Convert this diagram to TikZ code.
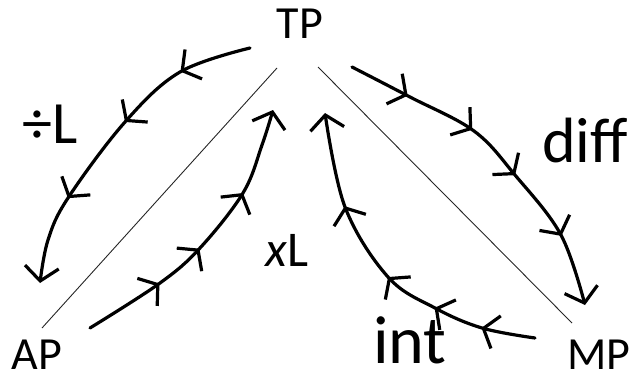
\documentclass[tikz,border=0pt]{standalone}
\usepackage{fontspec}
\setmainfont{Carlito}
\usetikzlibrary{arrows.meta, decorations.markings}
\tikzstyle{corner} = [inner sep=0pt, font=\fontsize{46}{46}\selectfont]
\tikzstyle{scrawl} = [inner sep=0pt, font=\fontsize{60}{60}\selectfont]
\tikzstyle{divider} = [line width=0.9pt, black!85]
\tikzstyle{route} = [line width=3.2pt, line cap=round, line join=round,
-{Straight Barb[length=14pt,width=34pt]},
postaction={decorate}]
\tikzset{hand/.tip={Straight Barb[length=13pt,width=34pt]}}

\begin{document}
\begin{tikzpicture}[x=1pt,y=-1pt]
\useasboundingbox (0,0) rectangle (635,383);

\node (tp) [corner] at (300,24) {TP};
\node (ap) [corner] at (37,355) {AP};
\node (mp) [corner] at (599,355) {MP};
\node (divlbl) [scrawl] at (50,124) {÷L};
\node (mullbl) [scrawl, font=\fontsize{50}{50}\selectfont] at (287,250) {{\itshape x}L};
\node (difflbl) [scrawl, font=\fontsize{64}{64}\selectfont] at (585,140) {diff};
\node (intlbl) [scrawl, font=\fontsize{68}{68}\selectfont] at (410,340) {int};

\coordinate (tpl) at (277,68);
\coordinate (apl) at (42,328);
\coordinate (tpr) at (318,67);
\coordinate (mpr) at (572,323);
\draw [divider] (tpl) -- (apl);
\draw [divider] (tpr) -- (mpr);

% TP -> AP
\draw [route, decoration={markings,
mark=at position 0.22 with {\arrow{hand}},
mark=at position 0.445 with {\arrow{hand}},
mark=at position 0.73 with {\arrow{hand}}}]
plot [smooth, tension=0.6] coordinates {(250,48) (180,72) (125,122) (68,198) (48,240) (40,283)};

% AP -> TP
\draw [route, decoration={markings,
mark=at position 0.28 with {\arrow{hand}},
mark=at position 0.46 with {\arrow{hand}},
mark=at position 0.70 with {\arrow{hand}}}]
plot [smooth, tension=0.6] coordinates {(90,328) (160,283) (200,248) (243,193) (262,145) (273,110)};

% TP -> MP
\draw [route, decoration={markings,
mark=at position 0.18 with {\arrow{hand}},
mark=at position 0.39 with {\arrow{hand}},
mark=at position 0.57 with {\arrow{hand}},
mark=at position 0.79 with {\arrow{hand}}}]
plot [smooth, tension=0.6] coordinates {(352,67) (410,97) (474,131) (515,175) (561,235) (585,305)};

% MP -> TP
\draw [route, decoration={markings,
mark=at position 0.16 with {\arrow{hand}},
mark=at position 0.31 with {\arrow{hand}},
mark=at position 0.475 with {\arrow{hand}},
mark=at position 0.72 with {\arrow{hand}}}]
plot [smooth, tension=0.6] coordinates {(535,338) (482,328) (435,308) (388,277) (345,207) (325,113)};

\end{tikzpicture}
\end{document}
